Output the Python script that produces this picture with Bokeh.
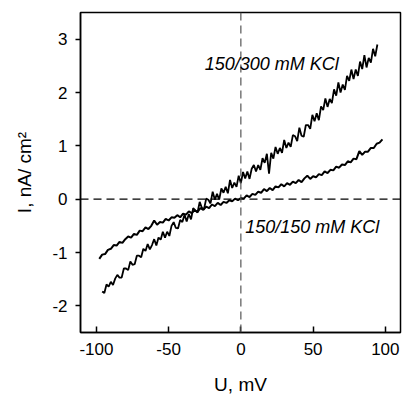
from bokeh.plotting import figure
from bokeh.models import Span, Label, FixedTicker
from bokeh.embed import file_html
from bokeh.resources import INLINE

# 150/300 mM KCl trace (U in mV, I in nA/cm^2)
u_300 = [-96, -94.5, -93, -91.5, -90, -88.5, -87, -85.5, -84, -82.5,
         -81, -79.5, -78, -76.5, -75, -73.5, -72, -70.5, -69, -67.5,
         -66, -64.5, -63, -61.5, -60, -58.5, -57, -55.5, -54, -52.5,
         -51, -49.5, -48, -46.5, -45, -43.5, -42, -40.5, -39, -37.5,
         -36, -34.5, -33, -31.5, -30, -28.5, -27, -25.5, -24, -22.5,
         -21, -19.5, -18, -16.5, -15, -13.5, -12, -10.5, -9, -7.5,
         -6, -4.5, -3, -1.5, 0, 1.5, 3, 4.5, 6, 7.5,
         9, 10.5, 12, 13.5, 15, 16.5, 18, 19.5, 21, 22.5,
         24, 25.5, 27, 28.5, 30, 31.5, 33, 34.5, 36, 37.5,
         39, 40.5, 42, 43.5, 45, 46.5, 48, 49.5, 51, 52.5,
         54, 55.5, 57, 58.5, 60, 61.5, 63, 64.5, 66, 67.5,
         69, 70.5, 72, 73.5, 75, 76.5, 78, 79.5, 81, 82.5,
         84, 85.5, 87, 88.5, 90, 91.5, 93, 94.5]
i_300 = [-1.73, -1.76, -1.60, -1.64, -1.55, -1.61, -1.49, -1.42, -1.47, -1.47,
         -1.30, -1.30, -1.33, -1.17, -1.23, -1.22, -1.06, -1.06, -1.09, -0.93,
         -0.97, -0.84, -0.94, -0.86, -0.75, -0.87, -0.72, -0.76, -0.61, -0.72,
         -0.61, -0.69, -0.50, -0.43, -0.54, -0.55, -0.39, -0.43, -0.29, -0.42,
         -0.28, -0.38, -0.17, -0.21, -0.25, -0.05, -0.16, -0.19, 0.01, -0.01,
         -0.08, 0.14, -0.01, 0.10, -0.01, 0.20, 0.12, 0.23, 0.11, 0.36,
         0.21, 0.31, 0.23, 0.44, 0.30, 0.51, 0.39, 0.52, 0.38, 0.57,
         0.64, 0.52, 0.64, 0.55, 0.77, 0.68, 0.85, 0.48, 0.87, 0.76,
         0.98, 0.85, 0.96, 0.87, 1.11, 0.96, 1.06, 0.98, 1.20, 1.18,
         1.09, 1.34, 1.19, 1.17, 1.39, 1.39, 1.32, 1.58, 1.46, 1.61,
         1.48, 1.74, 1.67, 1.89, 1.73, 1.88, 1.80, 2.06, 1.94, 2.19,
         2.00, 2.15, 2.05, 2.31, 2.22, 2.43, 2.25, 2.43, 2.31, 2.58,
         2.44, 2.70, 2.47, 2.65, 2.56, 2.82, 2.68, 2.90]

# 150/150 mM KCl trace
u_150 = [-98, -96, -94, -92, -90, -88, -86, -84, -82, -80,
         -78, -76, -74, -72, -70, -68, -66, -64, -62, -60,
         -58, -56, -54, -52, -50, -48, -46, -44, -42, -40,
         -38, -36, -34, -32, -30, -28, -26, -24, -22, -20,
         -18, -16, -14, -12, -10, -8, -6, -4, -2, 0,
         2, 4, 6, 8, 10, 12, 14, 16, 18, 20,
         22, 24, 26, 28, 30, 32, 34, 36, 38, 40,
         42, 44, 46, 48, 50, 52, 54, 56, 58, 60,
         62, 64, 66, 68, 70, 72, 74, 76, 78, 80,
         82, 84, 86, 88, 90, 92, 94, 96, 98]
i_150 = [-1.12, -1.04, -1.03, -0.95, -0.93, -0.86, -0.87, -0.80, -0.82, -0.75,
         -0.70, -0.72, -0.65, -0.67, -0.59, -0.60, -0.53, -0.56, -0.50, -0.40,
         -0.48, -0.43, -0.44, -0.37, -0.40, -0.34, -0.35, -0.30, -0.34, -0.27,
         -0.29, -0.23, -0.26, -0.21, -0.24, -0.17, -0.20, -0.14, -0.17, -0.10,
         -0.13, -0.07, -0.11, -0.05, -0.07, -0.02, -0.04, 0.01, -0.02, 0.02,
         0.01, 0.07, 0.04, 0.10, 0.08, 0.14, 0.12, 0.19, 0.15, 0.21,
         0.17, 0.24, 0.22, 0.28, 0.24, 0.30, 0.27, 0.33, 0.30, 0.36,
         0.32, 0.39, 0.44, 0.38, 0.43, 0.41, 0.47, 0.45, 0.52, 0.49,
         0.55, 0.54, 0.61, 0.59, 0.65, 0.64, 0.71, 0.69, 0.76, 0.75,
         0.90, 0.83, 0.89, 0.89, 0.96, 0.96, 1.04, 1.06, 1.12]

x_ticks = [-100, -50, 0, 50, 100]
y_ticks = [-2, -1, 0, 1, 2, 3]
label_300 = "150/300 mM KCl"
label_150 = "150/150 mM KCl"

FONT = "Liberation Sans"

p = figure(width=404, height=398, output_backend="svg", toolbar_location=None,
           x_range=(-111, 110.5), y_range=(-2.5, 3.5),
           min_border_left=80, min_border_right=4, min_border_top=12, min_border_bottom=66)
p.background_fill_color = "white"
p.border_fill_color = "white"
p.outline_line_color = "black"
p.outline_line_width = 1.5
p.grid.visible = False

for ax in (p.xaxis[0], p.yaxis[0]):
    ax.axis_line_width = 1.5
    ax.axis_line_color = "black"
    ax.major_tick_line_width = 1.5
    ax.minor_tick_line_color = None
    ax.major_label_text_font = FONT
    ax.major_label_text_font_size = "17px"
    ax.major_label_text_color = "black"
    ax.axis_label_text_font = FONT
    ax.axis_label_text_font_size = "19px"
    ax.axis_label_text_font_style = "normal"
    ax.axis_label_text_color = "black"

p.xaxis.ticker = FixedTicker(ticks=x_ticks)
p.yaxis.ticker = FixedTicker(ticks=y_ticks)
p.xaxis.major_label_overrides = {t: str(t) for t in x_ticks}
p.yaxis.major_label_overrides = {t: str(t) for t in y_ticks}
p.xaxis.major_tick_in = 6
p.xaxis.major_tick_out = 0
p.yaxis.major_tick_in = 0
p.yaxis.major_tick_out = 5
p.xaxis.major_label_standoff = 10
p.yaxis.major_label_standoff = 8
p.xaxis.axis_label = "U, mV"
p.yaxis.axis_label = "I, nA/ cm²"
p.xaxis.axis_label_standoff = 16
p.yaxis.axis_label_standoff = 14

p.add_layout(Span(location=0, dimension="width", line_color="black",
                  line_dash="8 5", line_width=1.2))
p.add_layout(Span(location=0, dimension="height", line_color="#555555",
                  line_dash="8 5", line_width=1.2))

p.line(u_150, i_150, line_color="black", line_width=2.0)
p.line(u_300, i_300, line_color="black", line_width=1.8)

p.add_layout(Label(x=-25, y=2.54, text=label_300, text_font=FONT, text_font_size="18px",
                   text_font_style="italic", text_color="black", text_baseline="alphabetic"))
p.add_layout(Label(x=3, y=-0.53, text=label_150, text_font=FONT, text_font_size="18px",
                   text_font_style="italic", text_color="black", text_baseline="alphabetic"))

open("out.html", "w").write(file_html(p, INLINE))
